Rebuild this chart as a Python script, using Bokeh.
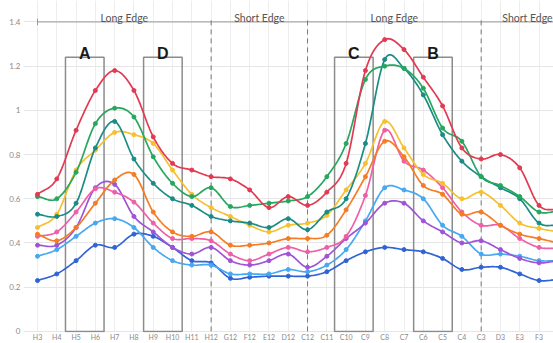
import numpy as np
from bokeh.plotting import figure
from bokeh.models import Range1d, FixedTicker, NumeralTickFormatter
from bokeh.core.properties import value
from bokeh.embed import file_html
from bokeh.resources import INLINE

# ---------------- data ----------------
labels = ["H3", "H4", "H5", "H6", "H7", "H8", "H9", "H10", "H11", "H12",
          "G12", "F12", "E12", "D12", "C12", "C11", "C10", "C9", "C8", "C7",
          "C6", "C5", "C4", "C3", "D3", "E3", "F3", "G3"]

red = [0.62, 0.69, 0.91, 1.09, 1.18, 1.09, 0.88, 0.76, 0.73, 0.70, 0.69, 0.64, 0.56, 0.61,
       0.57, 0.63, 0.76, 1.18, 1.32, 1.275, 1.15, 1.02, 0.83, 0.78, 0.80, 0.74, 0.57, 0.55]
green = [0.61, 0.60, 0.72, 0.94, 1.01, 0.97, 0.79, 0.67, 0.61, 0.65, 0.565, 0.57, 0.58, 0.59,
         0.61, 0.70, 0.85, 1.14, 1.20, 1.19, 1.10, 0.92, 0.86, 0.70, 0.66, 0.61, 0.54, 0.545]
teal = [0.53, 0.52, 0.58, 0.83, 0.95, 0.78, 0.67, 0.60, 0.57, 0.52, 0.50, 0.49, 0.47, 0.51,
        0.46, 0.54, 0.60, 0.85, 1.23, 1.19, 1.07, 0.89, 0.77, 0.70, 0.65, 0.60, 0.49, 0.48]
yellow = [0.47, 0.53, 0.73, 0.82, 0.90, 0.89, 0.85, 0.73, 0.62, 0.56, 0.52, 0.48, 0.45, 0.48,
          0.49, 0.525, 0.64, 0.76, 0.95, 0.83, 0.71, 0.67, 0.60, 0.63, 0.57, 0.49, 0.466, 0.45]
orange = [0.44, 0.41, 0.47, 0.58, 0.685, 0.71, 0.54, 0.45, 0.43, 0.45, 0.39, 0.39, 0.40, 0.42,
          0.42, 0.435, 0.55, 0.70, 0.86, 0.79, 0.66, 0.62, 0.53, 0.54, 0.48, 0.44, 0.42, 0.40]
pink = [0.43, 0.45, 0.54, 0.645, 0.63, 0.585, 0.49, 0.42, 0.42, 0.41, 0.35, 0.32, 0.35, 0.38,
        0.36, 0.38, 0.43, 0.615, 0.91, 0.77, 0.73, 0.65, 0.54, 0.48, 0.48, 0.42, 0.38, 0.375]
purple = [0.39, 0.39, 0.47, 0.65, 0.665, 0.52, 0.45, 0.38, 0.35, 0.38, 0.32, 0.30, 0.32, 0.35,
          0.29, 0.34, 0.42, 0.49, 0.58, 0.58, 0.50, 0.45, 0.40, 0.41, 0.37, 0.33, 0.31, 0.32]
lightblue = [0.34, 0.37, 0.43, 0.49, 0.51, 0.47, 0.38, 0.32, 0.30, 0.30, 0.26, 0.26, 0.26, 0.28,
             0.27, 0.30, 0.37, 0.50, 0.65, 0.64, 0.60, 0.48, 0.43, 0.35, 0.35, 0.34, 0.32, 0.32]
darkblue = [0.23, 0.26, 0.32, 0.39, 0.38, 0.44, 0.43, 0.38, 0.32, 0.31, 0.24, 0.245, 0.25, 0.25,
            0.25, 0.27, 0.32, 0.36, 0.38, 0.37, 0.36, 0.33, 0.28, 0.29, 0.29, 0.26, 0.23, 0.235]

series = [
    (darkblue, "#3064d6"),
    (lightblue, "#45a8f0"),
    (purple, "#a053d6"),
    (pink, "#ee5fa7"),
    (orange, "#f57c22"),
    (yellow, "#f6c02e"),
    (teal, "#1a8c84"),
    (green, "#25a75e"),
    (red, "#e23a52"),
]

# annotation regions (in category units)
box_names = ["A", "D", "C", "B"]
box_left = [1.45, 5.5, 15.4, 19.5]
box_right = [3.45, 7.5, 17.4, 21.5]
box_top = 1.24
edge_names = ["Long Edge", "Short Edge", "Long Edge", "Short Edge"]
edge_start = [0, 9, 14, 23]
edge_end = [9, 14, 23, 28]
edge_label_x = [4.5, 11.5, 18.5, 25.4]
bracket_level = 1.4
y_ticks = [0, 0.2, 0.4, 0.6, 0.8, 1.0, 1.2, 1.4]


def smooth(ys, n=16, k=0.5):
    ys = np.asarray(ys, dtype=float)
    m = len(ys)
    t = np.zeros(m)
    t[1:-1] = k * (ys[2:] - ys[:-2])
    t[0] = ys[1] - ys[0]
    t[-1] = ys[-1] - ys[-2]
    xs_out, ys_out = [], []
    for i in range(m - 1):
        s = np.linspace(0, 1, n, endpoint=False)
        h00 = 2 * s**3 - 3 * s**2 + 1
        h10 = s**3 - 2 * s**2 + s
        h01 = -2 * s**3 + 3 * s**2
        h11 = s**3 - s**2
        yy = h00 * ys[i] + h10 * t[i] + h01 * ys[i + 1] + h11 * t[i + 1]
        xs_out.extend(list(i + s))
        ys_out.extend(list(yy))
    xs_out.append(m - 1)
    ys_out.append(ys[-1])
    return xs_out, ys_out


p = figure(width=553, height=343, output_backend="svg", toolbar_location=None,
           x_range=Range1d(-0.726, 26.75), y_range=Range1d(-0.005, 1.497),
           min_border_left=23, min_border_right=0, min_border_top=0, min_border_bottom=0)
p.outline_line_color = None
p.background_fill_color = "white"

xs_idx = list(range(len(labels)))
p.xaxis.ticker = FixedTicker(ticks=xs_idx)
p.xaxis.major_label_overrides = {i: lab for i, lab in enumerate(labels)}
p.xaxis.axis_line_color = None
p.xaxis.major_tick_line_color = None
p.xaxis.minor_tick_line_color = None
p.xaxis.major_tick_in = 0
p.xaxis.major_tick_out = 0
p.xaxis.major_label_text_font_size = "7px"
p.xaxis.major_label_text_color = "#8a8a8a"
p.xaxis.major_label_text_font = "Lato"
p.xaxis.major_label_standoff = 0

p.yaxis.ticker = FixedTicker(ticks=y_ticks)
p.yaxis.formatter = NumeralTickFormatter(format="0.[0]")
p.yaxis.axis_line_color = None
p.yaxis.major_tick_line_color = None
p.yaxis.minor_tick_line_color = None
p.yaxis.major_tick_in = 0
p.yaxis.major_tick_out = 0
p.yaxis.major_label_text_font_size = "8px"
p.yaxis.major_label_text_color = "#8a8a8a"
p.yaxis.major_label_text_font = "Lato"
p.yaxis.major_label_standoff = 3

p.xgrid.ticker = FixedTicker(ticks=xs_idx)
p.xgrid.grid_line_color = "#ededed"
p.ygrid.ticker = FixedTicker(ticks=y_ticks)
p.ygrid.grid_line_color = "#e6e6e6"

# section bracket
p.segment(x0=[edge_start[0]], y0=[bracket_level], x1=[edge_end[-1]], y1=[bracket_level],
          line_color="#9a9a9a", line_width=1)
p.segment(x0=[edge_start[0]], y0=[bracket_level - 0.015], x1=[edge_start[0]],
          y1=[bracket_level + 0.015], line_color="#9a9a9a", line_width=1)
p.segment(x0=edge_start[1:], y0=[0] * 3, x1=edge_start[1:], y1=[bracket_level + 0.015] * 3,
          line_color="#777777", line_width=1, line_dash="5 4")
p.text(x=edge_label_x, y=[bracket_level + 0.018] * 4,
       text=edge_names, text_align="center", text_baseline="alphabetic",
       text_font=value("Lato"), text_font_size="10.5px", text_color="#555555")

# boxes
p.quad(left=box_left, right=box_right, bottom=[0] * 4, top=[box_top] * 4,
       fill_alpha=0, line_color="#8c8c8c", line_width=1.5)
p.text(x=[(a + b) / 2 for a, b in zip(box_left, box_right)], y=[box_top + 0.018] * 4,
       text=box_names, text_align="center", text_baseline="alphabetic",
       text_font=value("Liberation Sans"), text_font_style="bold",
       text_font_size="16px", text_color="#1a1a1a")

for ys, col in series:
    sx, sy = smooth(ys)
    p.line(sx, sy, line_color=col, line_width=1.7)
    p.scatter(xs_idx, ys, size=4, fill_color=col, line_color=col)

open("out.html", "w").write(file_html(p, INLINE))
